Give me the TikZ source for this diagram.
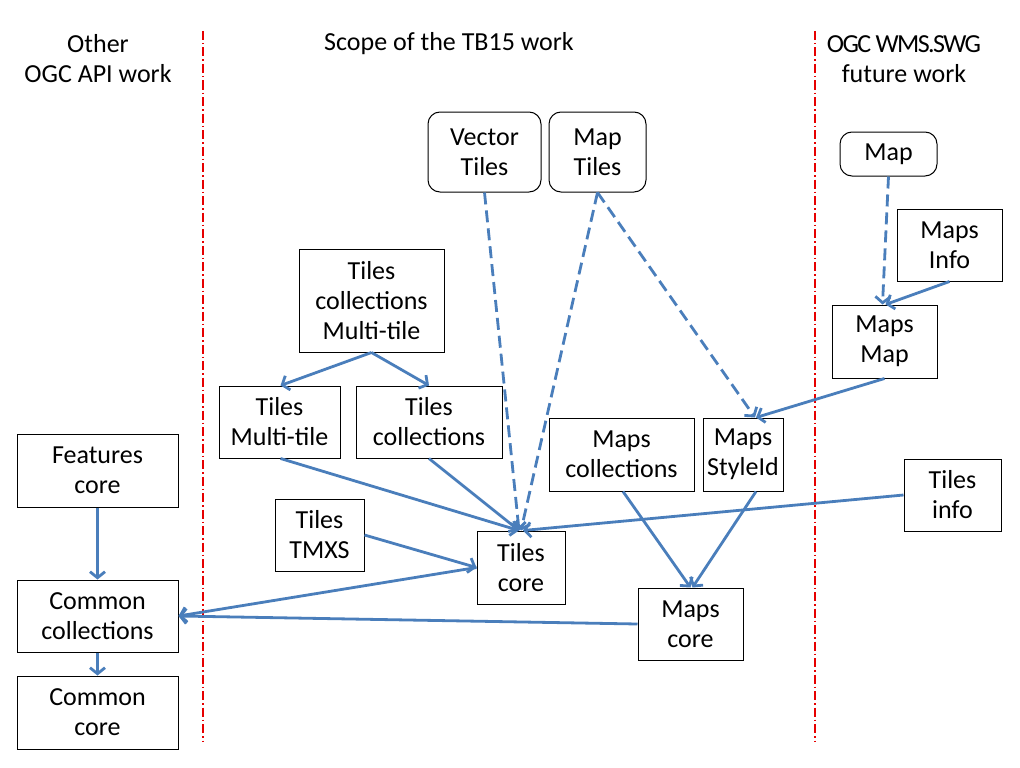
\documentclass[tikz,border=0pt]{standalone}
\usepackage{fontspec}
\setmainfont{Carlito}
\usetikzlibrary{arrows.meta}
\definecolor{conn}{RGB}{74,126,187}
\definecolor{divred}{RGB}{230,0,0}
\begin{document}
\begin{tikzpicture}[x=1pt,y=-1pt,
  txt/.style={font=\fontsize{26}{30}\selectfont, align=center, inner sep=0pt},
  box/.style={txt, draw=black, line width=1pt},
  rbox/.style={box, rounded corners=12pt},
  conline/.style={draw=conn, line width=2.8pt, -{Straight Barb[length=6pt,width=15pt]}},
  dconline/.style={conline, dash pattern=on 12pt off 6pt},
  divider/.style={draw=divred, line width=1.1pt, dash pattern=on 9pt off 3pt on 1.5pt off 3pt}]
\useasboundingbox (0,0) rectangle (1020,768);
% dividers
\coordinate (d1t) at (203,31); \coordinate (d1b) at (203,741);
\coordinate (d2t) at (815,31); \coordinate (d2b) at (815,741);
\draw[divider] (d1t) -- (d1b);
\draw[divider] (d2t) -- (d2b);
% headers
\node[txt] (h1) at (98,59) {Other\\OGC API work};
\node[txt] (h2) at (449,44) {Scope of the TB15 work};
\node[txt] (h3) at (904,59) {{\addfontfeature{LetterSpace=-6}OGC WMS.SWG}\\future work};
% nodes
\node[rbox, minimum width=113, minimum height=80] (vt) at (484.5,152) {Vector\\Tiles};
\node[rbox, minimum width=97, minimum height=80] (mt) at (597.5,152) {Map\\Tiles};
\node[rbox, minimum width=97, minimum height=44] (map) at (888.5,154) {Map};
\node[box, minimum width=105, minimum height=72] (minfo) at (949.5,245) {Maps\\Info};
\node[box, minimum width=105, minimum height=73] (mmap) at (884.5,341.5) {Maps\\Map};
\node[box, minimum width=145, minimum height=103] (tcm) at (371.5,300.5) {Tiles\\collections\\Multi-tile};
\node[box, minimum width=121, minimum height=72] (tmt) at (279.5,422) {Tiles\\Multi-tile};
\node[box, minimum width=146, minimum height=72] (tc) at (429,422) {Tiles\\collections};
\node[box, minimum width=145, minimum height=73] (mc) at (621.5,454.5) {Maps\\collections};
\node[box, minimum width=80, minimum height=73] (msi) at (743,454.5) {Maps\\StyleId};
\node[box, minimum width=97, minimum height=72] (tinfo) at (952.5,495) {Tiles\\info};
\node[box, minimum width=89, minimum height=72] (tmxs) at (319.5,535) {Tiles\\TMXS};
\node[box, minimum width=88, minimum height=73] (tcore) at (521,567.5) {Tiles\\core};
\node[box, minimum width=105, minimum height=72] (mcore) at (690.5,624) {Maps\\core};
\node[box, minimum width=161, minimum height=73] (fc) at (97.5,470.5) {Features\\core};
\node[box, minimum width=161, minimum height=72] (cc) at (97.5,616) {Common\\collections};
\node[box, minimum width=161, minimum height=73] (ccore) at (97.5,712.5) {Common\\core};
% connectors
\draw[dconline] (vt.south) -- ([xshift=-2pt]tcore.north);
\draw[dconline] (mt.south) -- (tcore.north);
\draw[dconline] (mt.south) -- ([xshift=12pt]msi.north);
\draw[dconline] (map.south) -- ([xshift=-2pt]mmap.north);
\draw[conline] (minfo.south) -- ([xshift=1pt]mmap.north);
\draw[conline] (mmap.south) -- ([xshift=13pt]msi.north);
\draw[conline] (tcm.south) -- ([xshift=1pt]tmt.north);
\draw[conline] (tcm.south) -- (tc.north);
\draw[conline] ([xshift=1pt]tmt.south) -- ([xshift=-2pt]tcore.north);
\draw[conline] (tc.south) -- ([xshift=-2pt]tcore.north);
\draw[conline] (tinfo.west) -- ([xshift=2pt]tcore.north);
\draw[conline] (tmxs.east) -- (tcore.west);
\draw[conline] (tcore.west) -- (cc.east);
\draw[conline] (mcore.west) -- (cc.east);
\draw[conline] ([xshift=1.5pt]mc.south) -- (mcore.north);
\draw[conline] ([xshift=13pt]msi.south) -- ([xshift=2pt]mcore.north);
\draw[conline] (fc.south) -- (cc.north);
\draw[conline] (cc.south) -- (ccore.north);
\end{tikzpicture}
\end{document}
